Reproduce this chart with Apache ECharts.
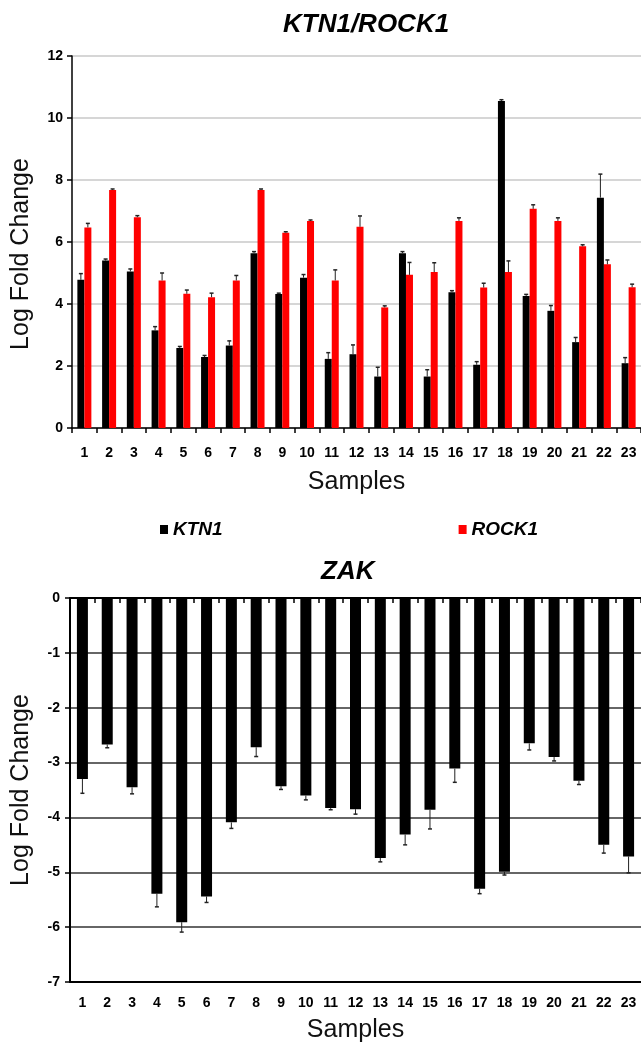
<!DOCTYPE html>
<html>
<head>
    <meta charset="utf-8">
    <title>KTN1/ROCK1 and ZAK</title>
    <script src="https://cdn.jsdelivr.net/npm/echarts@6/dist/echarts.min.js"></script>
</head>
<body style="margin:0;background:#fff;">
<div id="main" style="width:641px;height:1047px;"></div>
<script type="text/javascript">
    // samples on the x axis
    var samples = ['1', '2', '3', '4', '5', '6', '7', '8', '9', '10', '11', '12',
        '13', '14', '15', '16', '17', '18', '19', '20', '21', '22', '23'];

    // top chart
    var ktn1 = [4.78, 5.40, 5.05, 3.15, 2.58, 2.29, 2.66, 5.64, 4.32, 4.85, 2.23, 2.38,
        1.66, 5.64, 1.66, 4.38, 2.04, 10.55, 4.26, 3.78, 2.77, 7.43, 2.09];
    var ktn1Err = [0.20, 0.05, 0.08, 0.12, 0.05, 0.05, 0.15, 0.05, 0.03, 0.10, 0.20, 0.30,
        0.30, 0.05, 0.22, 0.05, 0.10, 0.04, 0.05, 0.17, 0.15, 0.76, 0.18];
    var rock1 = [6.47, 7.68, 6.80, 4.76, 4.33, 4.22, 4.76, 7.68, 6.30, 6.68, 4.76, 6.49,
        3.89, 4.94, 5.03, 6.68, 4.53, 5.03, 7.07, 6.68, 5.86, 5.28, 4.54];
    var rock1Err = [0.13, 0.03, 0.05, 0.24, 0.12, 0.13, 0.16, 0.03, 0.03, 0.03, 0.34, 0.35,
        0.05, 0.40, 0.30, 0.10, 0.14, 0.36, 0.13, 0.10, 0.05, 0.14, 0.10];

    // bottom chart
    var zak = [-3.30, -2.67, -3.45, -5.39, -5.91, -5.44, -4.09, -2.72, -3.43, -3.60, -3.83, -3.85,
        -4.74, -4.31, -3.86, -3.11, -5.30, -4.99, -2.65, -2.90, -3.33, -4.50, -4.71];
    var zakErr = [0.26, 0.06, 0.12, 0.24, 0.18, 0.11, 0.11, 0.17, 0.06, 0.08, 0.03, 0.09,
        0.07, 0.19, 0.35, 0.25, 0.09, 0.06, 0.12, 0.07, 0.07, 0.15, 0.30];

    var FONT = "'Liberation Sans', Arial, sans-serif";

    function errData(vals, errs) {
        return vals.map(function (v, i) {
            return [i, v, errs[i]];
        });
    }

    // error bar drawn from the bar end, away from zero
    function errRender(dx) {
        return function (params, api) {
            var x = api.value(0), v = api.value(1), e = api.value(2);
            var base = api.coord([x, v]);
            var end = api.coord([x, v < 0 ? v - e : v + e]);
            var cx = base[0] + dx;
            return {
                type: 'group',
                children: [{
                    type: 'line',
                    shape: {x1: cx, y1: base[1], x2: cx, y2: end[1]},
                    style: {stroke: '#222', lineWidth: 1}
                }, {
                    type: 'line',
                    shape: {x1: cx - 2, y1: end[1], x2: cx + 2, y2: end[1]},
                    style: {stroke: '#222', lineWidth: 1.5}
                }]
            };
        };
    }

    var labelStyle = {color: '#000', fontFamily: FONT, fontWeight: 'bold', fontSize: 14};
    var nameStyle = {color: '#111', fontFamily: FONT, fontWeight: 'normal', fontSize: 25};

    var myChart = echarts.init(document.getElementById('main'));

    myChart.setOption({
        animation: false,
        backgroundColor: '#fff',
        textStyle: {fontFamily: FONT},
        title: [{
            text: 'KTN1/ROCK1',
            left: 283,
            top: 12,
            padding: 0,
            textStyle: {fontFamily: FONT, fontSize: 26, fontWeight: 'bold', fontStyle: 'italic', color: '#000'}
        }, {
            text: 'ZAK',
            left: 321,
            top: 559,
            padding: 0,
            textStyle: {fontFamily: FONT, fontSize: 26, fontWeight: 'bold', fontStyle: 'italic', color: '#000'}
        }],
        legend: {
            data: ['KTN1', 'ROCK1'],
            left: 155,
            top: 515,
            icon: 'rect',
            itemWidth: 8,
            itemHeight: 9,
            itemGap: 236,
            textStyle: {fontFamily: FONT, fontSize: 19, fontWeight: 'bold', fontStyle: 'italic', color: '#000'}
        },
        grid: [
            {left: 72, top: 56, right: -2, height: 372},
            {left: 70, top: 598, right: -2, height: 384}
        ],
        xAxis: [{
            gridIndex: 0,
            type: 'category',
            data: samples,
            name: 'Samples',
            nameLocation: 'middle',
            nameGap: 42,
            nameTextStyle: nameStyle,
            axisLine: {lineStyle: {color: '#000', width: 1.5}},
            axisTick: {show: true, interval: 0, length: 5, lineStyle: {color: '#000', width: 1.5}},
            axisLabel: Object.assign({interval: 0, margin: 18}, labelStyle)
        }, {
            gridIndex: 1,
            type: 'category',
            data: samples,
            position: 'bottom',
            name: 'Samples',
            nameLocation: 'middle',
            nameGap: 36,
            nameTextStyle: nameStyle,
            axisLine: {onZero: false, lineStyle: {color: '#000', width: 2}},
            axisTick: {show: false},
            axisLabel: Object.assign({interval: 0, margin: 14}, labelStyle)
        }, {
            gridIndex: 1,
            type: 'category',
            data: samples,
            position: 'top',
            axisLine: {onZero: false, lineStyle: {color: '#000', width: 2}},
            axisTick: {show: true, inside: true, interval: 0, length: 5, lineStyle: {color: '#000', width: 1.5}},
            axisLabel: {show: false}
        }],
        yAxis: [{
            gridIndex: 0,
            type: 'value',
            min: 0,
            max: 12,
            interval: 2,
            name: 'Log Fold Change',
            nameLocation: 'middle',
            nameGap: 38,
            nameTextStyle: Object.assign({padding: [0, 24, 0, 0]}, nameStyle),
            axisLine: {show: true, lineStyle: {color: '#000', width: 1.5}},
            axisTick: {show: true, length: 5, lineStyle: {color: '#000', width: 1.5}},
            axisLabel: Object.assign({margin: 9}, labelStyle),
            splitLine: {show: true, lineStyle: {color: '#c8c8c8', width: 1.5}}
        }, {
            gridIndex: 1,
            type: 'value',
            min: -7,
            max: 0,
            interval: 1,
            name: 'Log Fold Change',
            nameLocation: 'middle',
            nameGap: 36,
            nameTextStyle: nameStyle,
            axisLine: {show: true, lineStyle: {color: '#000', width: 2}},
            axisTick: {show: true, length: 5, lineStyle: {color: '#000', width: 1.5}},
            axisLabel: Object.assign({margin: 10}, labelStyle),
            splitLine: {show: true, lineStyle: {color: '#333', width: 1.5}}
        }],
        series: [{
            name: 'KTN1',
            type: 'bar',
            xAxisIndex: 0,
            yAxisIndex: 0,
            data: ktn1,
            barWidth: 7,
            barGap: '0%',
            itemStyle: {color: '#000'}
        }, {
            name: 'ROCK1',
            type: 'bar',
            xAxisIndex: 0,
            yAxisIndex: 0,
            data: rock1,
            barWidth: 7,
            barGap: '0%',
            itemStyle: {color: '#ff0000'}
        }, {
            name: 'KTN1 error',
            type: 'custom',
            xAxisIndex: 0,
            yAxisIndex: 0,
            data: errData(ktn1, ktn1Err),
            encode: {x: 0, y: 1},
            renderItem: errRender(-3.5),
            z: 5
        }, {
            name: 'ROCK1 error',
            type: 'custom',
            xAxisIndex: 0,
            yAxisIndex: 0,
            data: errData(rock1, rock1Err),
            encode: {x: 0, y: 1},
            renderItem: errRender(3.5),
            z: 5
        }, {
            name: 'ZAK',
            type: 'bar',
            xAxisIndex: 1,
            yAxisIndex: 1,
            data: zak,
            barWidth: 11,
            itemStyle: {color: '#000'}
        }, {
            name: 'ZAK error',
            type: 'custom',
            xAxisIndex: 1,
            yAxisIndex: 1,
            data: errData(zak, zakErr),
            encode: {x: 0, y: 1},
            renderItem: errRender(0),
            z: 5
        }]
    });
</script>
</body>
</html>
